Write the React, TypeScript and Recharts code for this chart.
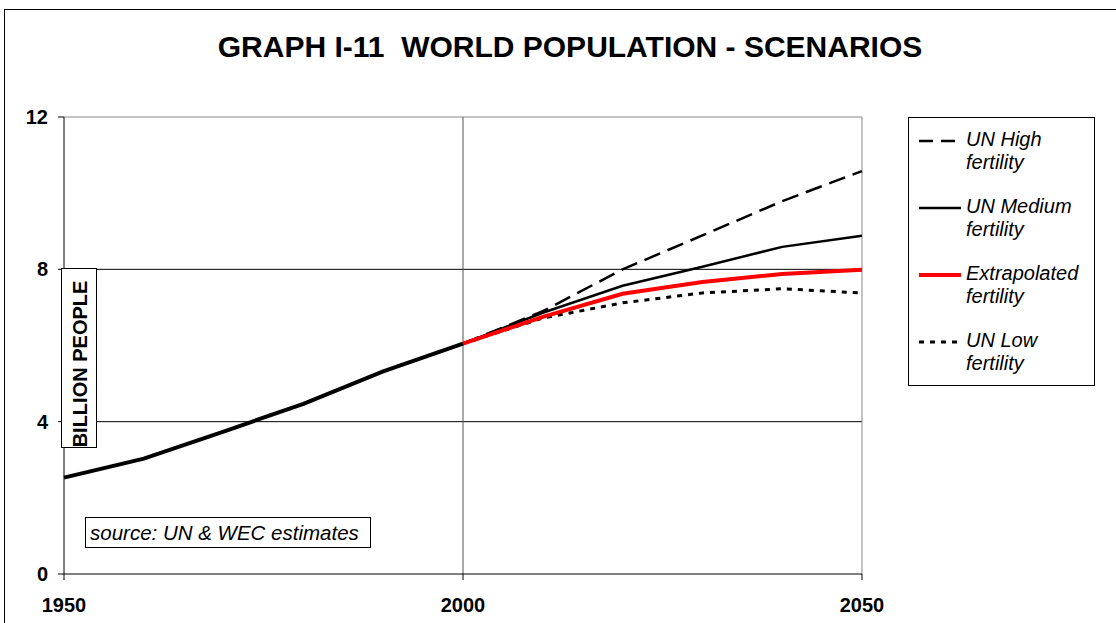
import React from "react";
import { LineChart, Line, XAxis, YAxis, ReferenceLine } from "recharts";

const years = [1950, 1960, 1970, 1980, 1990, 2000, 2010, 2020, 2030, 2040, 2050];
const historical = [2.53, 3.03, 3.74, 4.47, 5.32, 6.05, null, null, null, null, null];
const unHigh = [null, null, null, null, null, 6.05, 6.9, 8.0, 8.89, 9.79, 10.58];
const unMedium = [null, null, null, null, null, 6.05, 6.86, 7.57, 8.07, 8.59, 8.88];
const extrapolated = [null, null, null, null, null, 6.05, 6.75, 7.36, 7.67, 7.88, 7.99];
const unLow = [null, null, null, null, null, 6.05, 6.72, 7.12, 7.38, 7.49, 7.38];
const xTicks = [1950, 2000, 2050];
const yTicks = [0, 4, 8, 12];

const data = years.map((y, i) => ({
  year: y,
  historical: historical[i],
  high: unHigh[i],
  medium: unMedium[i],
  extrap: extrapolated[i],
  low: unLow[i],
}));

const FONT = "Arial, 'Liberation Sans', sans-serif";

const legendItems = [
  { l1: "UN High", l2: "fertility", stroke: "#000", w: 2.5, dash: "14 8" },
  { l1: "UN Medium", l2: "fertility", stroke: "#000", w: 2.5, dash: undefined },
  { l1: "Extrapolated", l2: "fertility", stroke: "#ff0000", w: 4, dash: undefined },
  { l1: "UN Low", l2: "fertility", stroke: "#000", w: 3, dash: "5 6" },
];

export default function App() {
  return (
    <div style={{ position: "absolute", left: 0, top: 0, width: 1116, height: 623, overflow: "hidden", background: "#fff", fontFamily: FONT }}>
      <div style={{ position: "absolute", left: 4, top: 9, width: 1200, height: 700, border: "1.5px solid #000" }} />
      <div style={{ position: "absolute", left: 0, top: 30, width: 1140, textAlign: "center", fontWeight: "bold", fontSize: 30, color: "#000", whiteSpace: "pre" }}>
        {"GRAPH I-11  WORLD POPULATION - SCENARIOS"}
      </div>
      <div style={{ position: "absolute", left: 0, top: 0 }}>
        <LineChart width={1116} height={623} data={data} margin={{ top: 117, right: 254, bottom: 0, left: 0 }}>
          <XAxis
            dataKey="year"
            type="number"
            domain={[1950, 2050]}
            ticks={xTicks}
            height={49}
            tickSize={6}
            tickMargin={18}
            stroke="#000"
            tick={{ fill: "#000", fontSize: 20, fontWeight: "bold", fontFamily: FONT }}
          />
          <YAxis
            type="number"
            domain={[0, 12]}
            ticks={yTicks}
            width={64}
            tickSize={6}
            tickMargin={10}
            stroke="#000"
            tick={{ fill: "#000", fontSize: 20, fontWeight: "bold", fontFamily: FONT }}
          />
          <ReferenceLine y={4} stroke="#000" strokeWidth={1} />
          <ReferenceLine y={8} stroke="#000" strokeWidth={1} />
          <ReferenceLine y={12} stroke="#888" strokeWidth={1} />
          <ReferenceLine x={2000} stroke="#555" strokeWidth={1} />
          <ReferenceLine x={2050} stroke="#888" strokeWidth={1} />
          <Line dataKey="historical" stroke="#000" strokeWidth={4} dot={false} isAnimationActive={false} type="linear" />
          <Line dataKey="low" stroke="#000" strokeWidth={3} strokeDasharray="5 6" dot={false} isAnimationActive={false} type="linear" />
          <Line dataKey="high" stroke="#000" strokeWidth={2.5} strokeDasharray="17 8" dot={false} isAnimationActive={false} type="linear" />
          <Line dataKey="medium" stroke="#000" strokeWidth={2.5} dot={false} isAnimationActive={false} type="linear" />
          <Line dataKey="extrap" stroke="#ff0000" strokeWidth={4} dot={false} isAnimationActive={false} type="linear" />
        </LineChart>
      </div>
      <div style={{ position: "absolute", left: 61, top: 268, width: 36, height: 180, border: "1px solid #000", background: "#fff", boxSizing: "border-box" }}>
        <div style={{ position: "absolute", left: 18, top: 95, transform: "translate(-50%, -50%) rotate(-90deg)", whiteSpace: "nowrap", fontWeight: "bold", fontSize: 20 }}>
          BILLION PEOPLE
        </div>
      </div>
      <div style={{ position: "absolute", left: 85, top: 517, width: 286, height: 31, border: "1px solid #000", boxSizing: "border-box", background: "#fff", fontStyle: "italic", fontSize: 20.5, lineHeight: "29px", paddingLeft: 4, whiteSpace: "nowrap" }}>
        source: UN &amp; WEC estimates
      </div>
      <div style={{ position: "absolute", left: 908, top: 117, width: 187, height: 269, border: "1px solid #000", boxSizing: "border-box", background: "#fff" }}>
        {legendItems.map((it, i) => (
          <div key={i} style={{ position: "absolute", left: 0, top: 10 + i * 67, width: 185 }}>
            <svg width={50} height={24} style={{ position: "absolute", left: 10, top: 0 }}>
              <line x1={0} y1={13} x2={42} y2={13} stroke={it.stroke} strokeWidth={it.w} strokeDasharray={it.dash} />
            </svg>
            <div style={{ position: "absolute", left: 57, top: 0, fontStyle: "italic", fontSize: 20, lineHeight: "23px", whiteSpace: "nowrap" }}>
              {it.l1}
              <br />
              {it.l2}
            </div>
          </div>
        ))}
      </div>
    </div>
  );
}
